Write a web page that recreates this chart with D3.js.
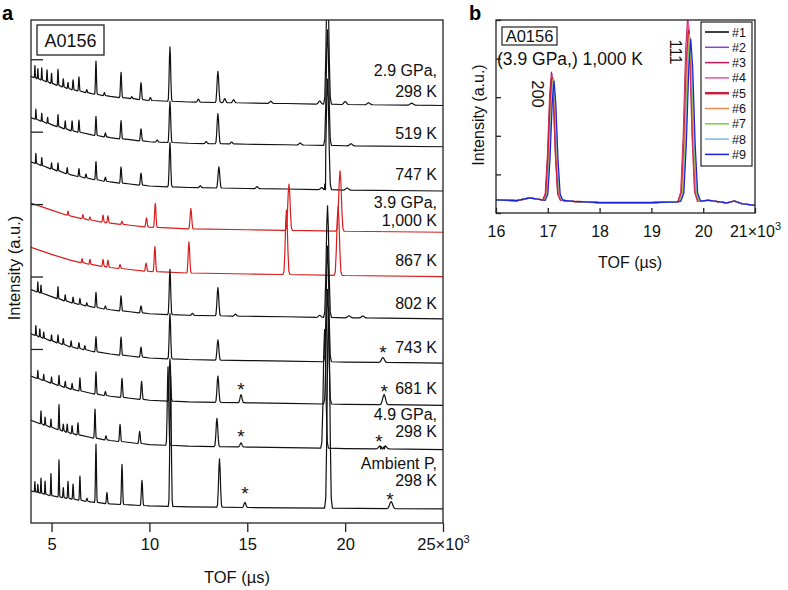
<!DOCTYPE html>
<html>
<head>
<meta charset="utf-8">
<script src="https://cdn.jsdelivr.net/npm/d3@7"></script>
<style>
body { margin: 0; background: #fff; }
svg { font-family: "Liberation Sans", Arial, sans-serif; }
</style>
</head>
<body>
<svg id="chart" width="788" height="590"></svg>
<script>
// ---- panel a : TOF spectra, TOF in units of 10^3 us, intensity in a.u. ----
const tofTicksA = [5, 10, 15, 20, 25];
const offsetTicksA = [173, 245, 317, 389, 461];

// background rise at low TOF, [tof, a.u.]
const bgRise = [[3.95, 27], [5, 20], [6, 14], [7, 10], [8, 7], [9, 5], [10, 3], [12, 1.5], [15, 0.5], [17, 0], [20, -1], [25, -2]];
const bgRiseAmbient = [[3.95, 17], [5, 12], [6, 9], [7, 6], [8, 4], [9, 3], [10, 2], [12, 1], [17, 0], [25, -1]];

// peaks per spectrum, [tof, height]
const peaks29GPa298 = [[4.15, 12], [4.3, 10], [4.5, 12], [4.77, 12], [5.0, 10], [5.33, 16], [5.6, 8], [5.84, 6], [6.1, 10], [6.4, 14], [6.8, 3], [7.27, 33], [7.7, 3], [8.55, 25], [9.1, 2], [9.57, 17], [10.05, 3], [11.05, 54], [12.5, 3], [13.5, 31], [13.85, 4], [14.3, 3], [16.2, 2], [18.7, 3], [19.1, 130], [20.0, 3], [21.2, 2], [23.4, 2]];
const peaks519 = [[4.2, 10], [4.5, 8], [4.8, 6], [5.33, 12], [5.7, 8], [6.05, 10], [6.4, 12], [7.27, 19], [7.75, 4], [8.55, 18], [9.57, 12], [10.4, 2], [11.05, 41], [12.9, 2], [13.5, 30], [14.2, 2], [17.7, 2], [19.1, 115], [20.3, 2]];
const peaks747 = [[4.2, 10], [4.5, 8], [5.0, 6], [5.33, 8], [5.8, 6], [6.4, 8], [6.76, 4], [7.27, 18], [7.75, 4], [8.55, 16], [9.57, 12], [11.05, 44], [12.6, 2], [13.55, 21], [15.5, 2], [18.8, 2], [19.1, 110], [20.1, 2]];
const peaks1000 = [[5.84, 4], [6.6, 4], [6.96, 3], [7.63, 7], [7.88, 7], [8.6, 3], [9.85, 9], [10.3, 24], [12.12, 20], [17.13, 46], [19.74, 60]];
const peaks867 = [[6.56, 4], [6.96, 5], [7.63, 7], [7.88, 7], [8.5, 4], [9.83, 8], [10.28, 25], [12.02, 31], [17.0, 64], [19.64, 69]];
const peaks802 = [[4.3, 10], [4.46, 8], [5.33, 12], [5.7, 6], [6.1, 6], [6.45, 6], [6.8, 3], [7.27, 15], [7.75, 3], [8.55, 15], [9.57, 7], [11.05, 45], [12.2, 2], [13.5, 28], [14.4, 2], [18.7, 2], [19.1, 111], [20.2, 2], [20.9, 2]];
const peaks743 = [[4.2, 10], [4.4, 8], [4.6, 6], [5.0, 6], [5.33, 8], [5.6, 6], [6.0, 6], [6.4, 6], [6.7, 4], [7.27, 15], [8.55, 18], [9.57, 10], [11.05, 45], [13.5, 20], [19.1, 115], [21.93, 5]];
const peaks681 = [[4.3, 8], [4.6, 6], [5.0, 6], [5.38, 10], [5.7, 6], [6.05, 6], [6.45, 13], [7.27, 22], [7.75, 4], [8.6, 19], [9.6, 18], [11.05, 42], [13.5, 26], [14.68, 8], [19.1, 114], [21.99, 10]];
const peaks49GPa298 = [[4.46, 13], [4.67, 8], [4.97, 8], [5.38, 25], [5.6, 7], [5.8, 8], [6.05, 8], [6.35, 12], [7.22, 29], [7.78, 4], [8.5, 17], [9.5, 12], [10.95, 78], [13.45, 28], [14.68, 4], [18.95, 118], [21.78, 3], [22.05, 3]];
const peaksAmbient298 = [[4.15, 10], [4.3, 8], [4.46, 15], [4.67, 13], [4.97, 22], [5.38, 37], [5.6, 10], [5.84, 17], [6.1, 15], [6.45, 24], [6.81, 3], [7.27, 58], [7.83, 11], [8.6, 40], [9.62, 25], [11.08, 130], [13.58, 48], [14.88, 5], [19.15, 200], [22.35, 7]];

const spectraA = [peaks29GPa298, peaks519, peaks747, peaks1000, peaks867, peaks802, peaks743, peaks681, peaks49GPa298, peaksAmbient298];
const spectrumOffsets = [417, 376, 332, 291, 247, 205, 161, 119, 75, 15];
const spectrumLabels = [["2.9 GPa,", "298 K"], ["519 K"], ["747 K"], ["3.9 GPa,", "1,000 K"], ["867 K"], ["802 K"], ["743 K"], ["681 K"], ["4.9 GPa,", "298 K"], ["Ambient P,", "298 K"]];
const labelLift = [6, 6, 9, 4, 9, 8, 8, 9, 11, 22];
const labelGap = [21, 17, 17, 18, 17, 17, 17, 17, 17, 17];
// impurity markers: [spectrum index, tof, height above baseline]
const stars = [[6, 21.93, 15], [7, 14.68, 18], [7, 21.99, 18], [8, 14.68, 15], [8, 21.73, 12], [9, 14.88, 19], [9, 22.29, 14]];
const redSpectra = [3, 4];

// ---- panel b : 200 and 111 peaks, runs #1..#9 ----
const runNames = ["#1", "#2", "#3", "#4", "#5", "#6", "#7", "#8", "#9"];
const runColors = ["#000000", "#8a3fd1", "#c0185a", "#e8569e", "#c8203a", "#f08a4b", "#7ccf3c", "#7fb6e0", "#1f1fd6"];
const tofTicksB = [16, 17, 18, 19, 20, 21];
const intTicksB = [0, 1, 2, 3, 4, 5];
const baseB = [[16, 0.34], [16.4, 0.32], [16.65, 0.39], [16.85, 0.35], [17.5, 0.3], [18, 0.27], [19, 0.27], [19.5, 0.29], [20.1, 0.33], [20.45, 0.26], [20.6, 0.31], [20.75, 0.24], [21, 0.2]];
const pos200 = [17.09, 17.08, 17.07, 17.08, 17.08, 17.1, 17.11, 17.11, 17.12];
const height200 = [3.17, 3.27, 3.32, 3.22, 3.17, 3.12, 3.17, 3.12, 3.09];
const pos111 = [19.73, 19.72, 19.7, 19.71, 19.72, 19.73, 19.74, 19.75, 19.76];
const height111 = [4.32, 4.57, 4.77, 4.67, 4.42, 4.32, 4.27, 4.22, 4.2];

// peak outline, [fraction of half width, fraction of height]
const peakShape = [[-1, 0], [-0.7, 0.05], [-0.45, 0.35], [-0.2, 0.82], [0, 1], [0.2, 0.82], [0.45, 0.35], [0.7, 0.05], [1, 0]];

const svg = d3.select("#chart");

function tracePoints(peaks, offset, rise, widthOf) {
    const riseAt = d3.scaleLinear().domain(rise.map(d => d[0])).range(rise.map(d => d[1])).clamp(true);
    const pts = [];
    peaks.forEach(([p, h]) => {
        const w = widthOf(p);
        const b = offset + riseAt(p);
        peakShape.forEach(([dx, f]) => pts.push([p + dx * w, b + f * h]));
    });
    rise.forEach(([x, r]) => {
        if (!peaks.some(([p]) => Math.abs(x - p) <= widthOf(p))) pts.push([x, offset + r]);
    });
    return pts.sort((a, b) => a[0] - b[0]);
}

// ================= panel a =================
const xA = d3.scaleLinear().domain([3.95, 25]).range([31, 443]);
const yA = d3.scaleLinear().domain([0, 500]).range([523, 20]);

svg.append("clipPath").attr("id", "clipA").append("rect")
    .attr("x", 31).attr("y", 20).attr("width", 412).attr("height", 503);

const lineA = d3.line().x(d => xA(d[0])).y(d => yA(d[1]));
const gA = svg.append("g").attr("clip-path", "url(#clipA)");
spectraA.forEach((peaks, i) => {
    const rise = i === 9 ? bgRiseAmbient : bgRise;
    gA.append("path")
        .attr("d", lineA(tracePoints(peaks, spectrumOffsets[i], rise, p => p * 0.0105)))
        .attr("fill", "none")
        .attr("stroke", redSpectra.includes(i) ? "#d81e1e" : "#111")
        .attr("stroke-width", 1.2)
        .attr("stroke-linejoin", "round");
});

svg.append("rect").attr("x", 31).attr("y", 20).attr("width", 412).attr("height", 503)
    .attr("fill", "none").attr("stroke", "#222").attr("stroke-width", 1.3);

const axA = svg.append("g").attr("transform", "translate(0,523)")
    .call(d3.axisBottom(xA).tickValues(tofTicksA).tickSize(9).tickPadding(6)
        .tickFormat(d => d === 25 ? "" : d));
axA.select(".domain").remove();
axA.selectAll("line").attr("stroke", "#222").attr("stroke-width", 1.3);
axA.selectAll("text").attr("font-size", 16.5).attr("fill", "#111").attr("font-family", null);
const lastA = axA.selectAll(".tick").filter(d => d === 25).select("text");
lastA.text("25×10");
lastA.append("tspan").text("3").attr("font-size", 11).attr("dy", -7);

const yAxA = svg.append("g").attr("transform", "translate(31,0)")
    .call(d3.axisRight(yA).tickValues(offsetTicksA).tickSize(12).tickFormat(""));
yAxA.select(".domain").remove();
yAxA.selectAll("line").attr("stroke", "#222").attr("stroke-width", 1.3);

// spectrum labels
spectrumLabels.forEach((lines, i) => {
    const yb = yA(spectrumOffsets[i]) - labelLift[i];
    lines.forEach((t, k) => {
        svg.append("text").attr("x", 437).attr("y", yb - (lines.length - 1 - k) * labelGap[i])
            .attr("text-anchor", "end").attr("font-size", 16).attr("fill", "#111").text(t);
    });
});

stars.forEach(([i, tof, lift]) => {
    const rise = i === 9 ? bgRiseAmbient : bgRise;
    const riseAt = d3.scaleLinear().domain(rise.map(d => d[0])).range(rise.map(d => d[1])).clamp(true);
    svg.append("text").attr("x", xA(tof)).attr("y", yA(spectrumOffsets[i] + riseAt(tof) + lift))
        .attr("dy", "0.6em").attr("text-anchor", "middle").attr("font-size", 19).attr("fill", "#111").text("*");
});

svg.append("rect").attr("x", 37).attr("y", 25).attr("width", 67).attr("height", 30)
    .attr("fill", "#fff").attr("stroke", "#222").attr("stroke-width", 1.3);
svg.append("text").attr("x", 70.5).attr("y", 47).attr("text-anchor", "middle")
    .attr("font-size", 18).attr("fill", "#111").text("A0156");

svg.append("text").attr("x", 237).attr("y", 583).attr("text-anchor", "middle")
    .attr("font-size", 16.5).attr("fill", "#111").text("TOF (µs)");
svg.append("text").attr("transform", "translate(20,268) rotate(-90)").attr("text-anchor", "middle")
    .attr("font-size", 16.5).attr("fill", "#111").text("Intensity (a.u.)");
svg.append("text").attr("x", 2).attr("y", 20).attr("font-size", 20).attr("font-weight", "bold").text("a");

// ================= panel b =================
const xB = d3.scaleLinear().domain([16, 21]).range([496, 755]);
const yB = d3.scaleLinear().domain([0, 5]).range([213, 20]);

svg.append("clipPath").attr("id", "clipB").append("rect")
    .attr("x", 496).attr("y", 20).attr("width", 259).attr("height", 193);

const lineB = d3.line().x(d => xB(d[0])).y(d => yB(d[1]));
const gB = svg.append("g").attr("clip-path", "url(#clipB)");
runNames.forEach((n, i) => {
    const peaks = [[pos200[i], height200[i]], [pos111[i], height111[i]]];
    gB.append("path")
        .attr("d", lineB(tracePoints(peaks, 0, baseB, p => p < 18.5 ? 0.17 : 0.19)))
        .attr("fill", "none").attr("stroke", runColors[i])
        .attr("stroke-width", i === 4 ? 1.6 : 1.2).attr("stroke-linejoin", "round");
});

svg.append("rect").attr("x", 496).attr("y", 20).attr("width", 259).attr("height", 193)
    .attr("fill", "none").attr("stroke", "#222").attr("stroke-width", 1.3);

const axB = svg.append("g").attr("transform", "translate(0,213)")
    .call(d3.axisBottom(xB).tickValues(tofTicksB).tickSizeInner(-5).tickSizeOuter(0).tickPadding(10)
        .tickFormat(d => d === 21 ? "" : d));
axB.select(".domain").remove();
axB.selectAll("line").attr("stroke", "#222").attr("stroke-width", 1.3);
axB.selectAll("text").attr("font-size", 16).attr("fill", "#111").attr("font-family", null).attr("dy", "0.9em");
const lastB = axB.selectAll(".tick").filter(d => d === 21).select("text");
lastB.text("21×10");
lastB.append("tspan").text("3").attr("font-size", 11).attr("dy", -7);

const yAxB = svg.append("g").attr("transform", "translate(496,0)")
    .call(d3.axisRight(yB).tickValues(intTicksB).tickSize(5).tickFormat(""));
yAxB.select(".domain").remove();
yAxB.selectAll("line").attr("stroke", "#222").attr("stroke-width", 1.3);

svg.append("rect").attr("x", 502).attr("y", 27).attr("width", 55).attr("height", 18)
    .attr("fill", "#fff").attr("stroke", "#222").attr("stroke-width", 1.2);
svg.append("text").attr("x", 529.5).attr("y", 42).attr("text-anchor", "middle")
    .attr("font-size", 16.5).attr("fill", "#111").text("A0156");
svg.append("text").attr("x", 497).attr("y", 65).attr("font-size", 17.5).attr("fill", "#111").text("(3.9 GPa,) 1,000 K");

svg.append("text").attr("transform", `translate(${xB(17.08) - 14},94) rotate(90)`).attr("text-anchor", "middle")
    .attr("dy", "0.35em").attr("font-size", 16.5).attr("fill", "#111").text("200");
svg.append("text").attr("transform", `translate(${xB(19.72) - 13},52) rotate(90)`).attr("text-anchor", "middle")
    .attr("dy", "0.35em").attr("font-size", 16.5).attr("fill", "#111").text("111");

// legend
const leg = svg.append("g");
leg.append("rect").attr("x", 701).attr("y", 22).attr("width", 51).attr("height", 144)
    .attr("fill", "#fff").attr("stroke", "#222").attr("stroke-width", 1.2);
runNames.forEach((n, i) => {
    const yy = 32 + i * 15.3;
    leg.append("line").attr("x1", 705).attr("x2", 729).attr("y1", yy).attr("y2", yy)
        .attr("stroke", runColors[i]).attr("stroke-width", i === 4 ? 2.5 : 1.5);
    leg.append("text").attr("x", 732).attr("y", yy).attr("dy", "0.36em")
        .attr("font-size", 12.5).attr("fill", "#111").text(n);
});

svg.append("text").attr("x", 630).attr("y", 268).attr("text-anchor", "middle")
    .attr("font-size", 16).attr("fill", "#111").text("TOF (µs)");
svg.append("text").attr("transform", "translate(484,115) rotate(-90)").attr("text-anchor", "middle")
    .attr("font-size", 16).attr("fill", "#111").text("Intensity (a.u.)");
svg.append("text").attr("x", 469).attr("y", 20).attr("font-size", 20).attr("font-weight", "bold").text("b");
</script>
</body>
</html>
